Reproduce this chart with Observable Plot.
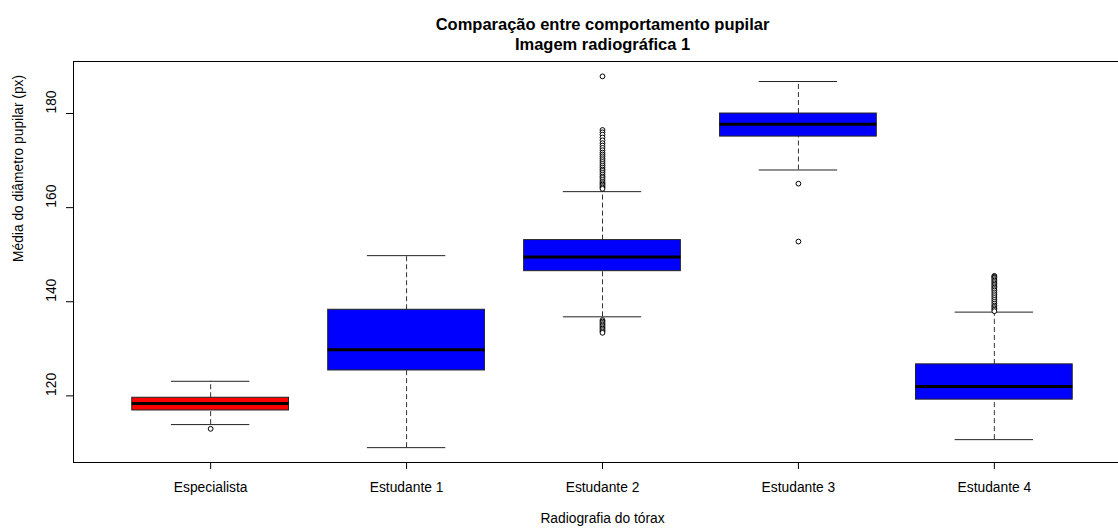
<!DOCTYPE html>
<html><head><meta charset="utf-8">
<script src="https://cdn.jsdelivr.net/npm/d3@7"></script>
<script src="https://cdn.jsdelivr.net/npm/@observablehq/plot@0.6"></script>
<style>
body{margin:0;background:#fff;}
#chart{width:1118px;height:530px;overflow:hidden;}
</style>
</head><body><div id="chart"></div>
<script>
const categories = ["Especialista", "Estudante 1", "Estudante 2", "Estudante 3", "Estudante 4"];
const lowerWhisker = [113.9, 109.0, 136.8, 168.0, 110.7];
const q1 = [116.9, 125.4, 146.5, 175.1, 119.2];
const median = [118.4, 129.8, 149.5, 177.7, 122.0];
const q3 = [119.6, 138.3, 153.1, 180.0, 126.7];
const upperWhisker = [123.1, 149.8, 163.4, 186.8, 137.8];
const boxColors = ["#FF0000", "#0000FF", "#0000FF", "#0000FF", "#0000FF"];

const outliersEspecialista = [113.0];
const outliersEstudante1 = [];
const outliersEstudante2 = [187.9,
  176.5, 176.0, 175.5, 174.9, 174.3, 173.7, 173.2, 172.7, 172.2, 171.7, 171.3, 170.9,
  170.5, 170.1, 169.7, 169.3, 168.9, 168.5, 168.1, 167.8, 167.4, 167.0, 166.6, 166.3,
  165.9, 165.5, 165.2, 164.9, 164.6, 164.3, 164.0,
  136.1, 135.8, 135.5, 135.2, 134.9, 134.6, 134.3, 134.0, 133.7, 133.4];
const outliersEstudante3 = [165.1, 152.8];
const outliersEstudante4 = [145.5, 145.3, 145.1, 144.8, 144.5, 144.2, 143.9, 143.6, 143.3,
  143.0, 142.7, 142.4, 142.0, 141.6, 141.2, 140.8, 140.4, 140.0, 139.6, 139.2, 138.9,
  138.6, 138.3, 138.0];
const outlierLists = [outliersEspecialista, outliersEstudante1, outliersEstudante2, outliersEstudante3, outliersEstudante4];

const yTicks = [120, 140, 160, 180];
const titleLine1 = "Comparação entre comportamento pupilar";
const titleLine2 = "Imagem radiográfica 1";
const xTitle = "Radiografia do tórax";
const yTitle = "Média do diâmetro pupilar (px)";

const stats = categories.map((c, i) => ({
  cat: c, pos: i + 1, lo: lowerWhisker[i], q1: q1[i], med: median[i], q3: q3[i], hi: upperWhisker[i], color: boxColors[i]
}));
const outliers = outlierLists.flatMap((arr, i) => arr.map(v => ({pos: i + 1, v})));

const allVals = [...lowerWhisker, ...upperWhisker, ...outliers.map(d => d.v)];
const yMin = d3.min(allVals), yMax = d3.max(allVals);
const yPad = (yMax - yMin) * 0.04;
const n = categories.length;
const xDom = [0.5 - n * 0.04, n + 0.5 + n * 0.04];
const mid = (n + 1) / 2;
const font = "'Liberation Sans', Arial, Helvetica, sans-serif";
const fs = 13.8;

const chart = Plot.plot({
  width: 1118,
  height: 530,
  marginLeft: 73,
  marginRight: -13,
  marginTop: 61,
  marginBottom: 68,
  style: {fontFamily: font, fontSize: fs + "px", background: "white", color: "#000"},
  x: {type: "linear", domain: xDom},
  y: {domain: [yMin - yPad, yMax + yPad]},
  marks: [
    Plot.ruleX(stats, {x: "pos", y1: "q3", y2: "hi", stroke: "#333", strokeDasharray: "5,3"}),
    Plot.ruleX(stats, {x: "pos", y1: "lo", y2: "q1", stroke: "#333", strokeDasharray: "5,3"}),
    Plot.ruleY(stats, {y: "hi", x1: d => d.pos - 0.2, x2: d => d.pos + 0.2, stroke: "#222"}),
    Plot.ruleY(stats, {y: "lo", x1: d => d.pos - 0.2, x2: d => d.pos + 0.2, stroke: "#222"}),
    Plot.rect(stats, {x1: d => d.pos - 0.4, x2: d => d.pos + 0.4, y1: "q1", y2: "q3", fill: "color", stroke: "#222", strokeWidth: 1}),
    Plot.ruleY(stats, {y: "med", x1: d => d.pos - 0.4, x2: d => d.pos + 0.4, stroke: "#000", strokeWidth: 3}),
    Plot.dot(outliers, {x: "pos", y: "v", r: 2.4, stroke: "#000", fill: "white", strokeWidth: 1}),
    Plot.frame({stroke: "#000"}),
    Plot.axisX({ticks: stats.map(d => d.pos), tickFormat: p => categories[p - 1], tickSize: 7, tickPadding: 13, label: null, fontSize: fs}),
    Plot.axisY({ticks: yTicks, tickSize: 7, tickFormat: () => "", label: null}),
    Plot.text(yTicks, {y: d => d, text: d => String(d), frameAnchor: "left", dx: -22, rotate: -90, fontSize: fs}),
    Plot.text([titleLine1], {x: mid, frameAnchor: "top", dy: -43, fontWeight: "bold", fontSize: 16.5}),
    Plot.text([titleLine2], {x: mid, frameAnchor: "top", dy: -23, fontWeight: "bold", fontSize: 16.5}),
    Plot.text([xTitle], {x: mid, frameAnchor: "bottom", dy: 60, fontSize: fs}),
    Plot.text([yTitle], {frameAnchor: "left", dx: -55, rotate: -90, fontSize: fs})
  ]
});
document.getElementById("chart").appendChild(chart);
</script>
</body></html>
